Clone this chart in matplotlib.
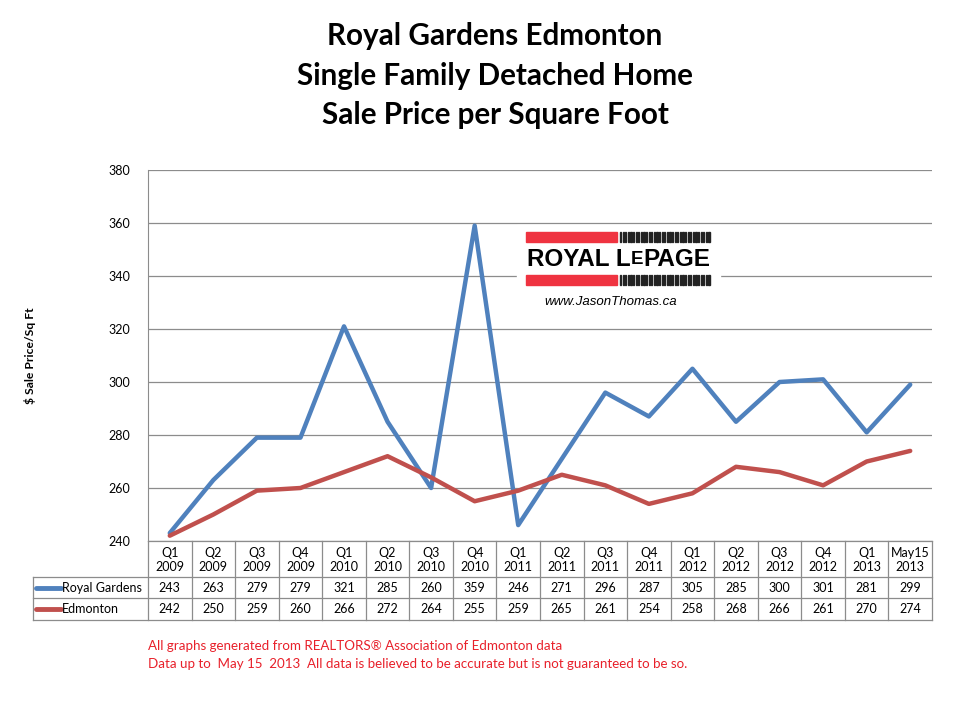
import numpy as np
import matplotlib.pyplot as plt
from matplotlib.patches import Rectangle

periods = ["Q1\n2009", "Q2\n2009", "Q3\n2009", "Q4\n2009",
           "Q1\n2010", "Q2\n2010", "Q3\n2010", "Q4\n2010",
           "Q1\n2011", "Q2\n2011", "Q3\n2011", "Q4\n2011",
           "Q1\n2012", "Q2\n2012", "Q3\n2012", "Q4\n2012",
           "Q1\n2013", "May15\n2013"]
royal_gardens = [243, 263, 279, 279, 321, 285, 260, 359, 246, 271,
                 296, 287, 305, 285, 300, 301, 281, 299]
edmonton = [242, 250, 259, 260, 266, 272, 264, 255, 259, 265,
            261, 254, 258, 268, 266, 261, 270, 274]
series = [("Royal Gardens", royal_gardens, "#4F81BD"),
          ("Edmonton", edmonton, "#C0504D")]

W, H = 960, 720
plt.rcParams['font.family'] = ['Lato', 'DejaVu Sans']
fig = plt.figure(figsize=(W / 100, H / 100), dpi=100)


def fx(px):
    return px / W


def fy(py):
    return 1 - py / H


L, R, T, B = 148, 932, 170, 541
ax = fig.add_axes([fx(L), fy(B), fx(R) - fx(L), fy(T) - fy(B)])
n = len(periods)
x = np.arange(n)
for name, vals, col in series:
    ax.plot(x, vals, color=col, lw=3.2, solid_capstyle='round', zorder=3)
ax.set_xlim(-0.5, n - 0.5)
ax.set_ylim(240, 380)
ax.set_yticks(range(240, 381, 20))
ax.yaxis.grid(True, color='#8c8c8c', lw=0.9)
ax.set_axisbelow(True)
ax.set_xticks([])
for s in ['top', 'right', 'bottom']:
    ax.spines[s].set_visible(False)
ax.spines['left'].set_color('#8c8c8c')
ax.tick_params(axis='y', labelsize=9, length=0, pad=13)
ax.set_ylabel("$ Sale Price/Sq Ft", fontsize=8.7, fontweight='bold', labelpad=52)

# data table below the axis
cw = (R - L) / n
TL, TB = 33, 620
tab = fig.add_axes([fx(TL), fy(TB), fx(R) - fx(TL), fy(B) - fy(TB)])
tab.set_xlim(-0.5 - (L - TL) / cw, n - 0.5)
tab.set_ylim(TB, B)
tab.axis('off')
r1, r2 = 577, 598
lc = '#8c8c8c'
lw = 0.9
xl = -0.5 - (L - TL) / cw
for yy in [r1, r2, TB]:
    tab.plot([xl, n - 0.5], [yy, yy], color=lc, lw=lw, clip_on=False)
tab.plot([-0.5, n - 0.5], [B, B], color=lc, lw=lw, clip_on=False)
tab.plot([xl, xl], [r1, TB], color=lc, lw=lw, clip_on=False)
for i in range(n + 1):
    tab.plot([i - 0.5, i - 0.5], [B, TB], color=lc, lw=lw, clip_on=False)
for i, lab in enumerate(periods):
    tab.text(i, (B + r1) / 2 + 1, lab, ha='center', va='center', fontsize=9,
             linespacing=1.25)
for (name, vals, col), (ya, yb) in zip(series, [(r1, r2), (r2, TB)]):
    ym = (ya + yb) / 2
    tab.plot([xl + 0.07, xl + 0.65], [ym, ym], color=col, lw=3.5,
             solid_capstyle='round', clip_on=False)
    tab.text(xl + 0.67, ym, name, ha='left', va='center', fontsize=9)
    for i, v in enumerate(vals):
        tab.text(i, ym, str(v), ha='center', va='center', fontsize=9)

# titles
for txt, py in [("Royal Gardens Edmonton", 36),
                ("Single Family Detached Home", 76),
                ("Sale Price per Square Foot", 115)]:
    fig.text(fx(495), fy(py), txt, ha='center', va='center', fontsize=21.3,
             fontweight='bold')

# logo
fig.patches.append(Rectangle((fx(517), fy(312)), fx(203), fy(225) - fy(312),
                             transform=fig.transFigure, color='white', zorder=5))
for py in [232, 275]:
    fig.patches.append(Rectangle((fx(526), fy(py + 10)), fx(91), fy(py) - fy(py + 10),
                                 transform=fig.transFigure, color='#EF3340', zorder=6))
    for bx in np.arange(620, 711, 2.6):
        fig.patches.append(Rectangle((fx(bx), fy(py + 10)), fx(1.1), fy(py) - fy(py + 10),
                                     transform=fig.transFigure, color='#222222', zorder=6))
logo_font = ['Liberation Sans', 'DejaVu Sans']
fig.text(fx(631), fy(259), "ROYAL L", ha='right', va='center', fontsize=17.5,
         fontweight='bold', family=logo_font, zorder=7)
fig.text(fx(631), fy(259), "E", ha='left', va='center', fontsize=13.5,
         fontweight='bold', family=logo_font, zorder=7)
fig.text(fx(643), fy(259), "PAGE", ha='left', va='center', fontsize=17.5,
         fontweight='bold', family=logo_font, zorder=7)
fig.text(fx(611), fy(302), "www.JasonThomas.ca", ha='center', va='center',
         fontsize=9.5, style='italic', family=logo_font, zorder=7)

# footer
fig.text(fx(148), fy(646), "All graphs generated from REALTORS® Association of Edmonton data",
         color='#E8202A', fontsize=9.6, va='center')
fig.text(fx(148), fy(664), "Data up to  May 15  2013  All data is believed to be accurate but is not guaranteed to be so.",
         color='#E8202A', fontsize=9.6, va='center')

fig.savefig("out.png", dpi=100)
